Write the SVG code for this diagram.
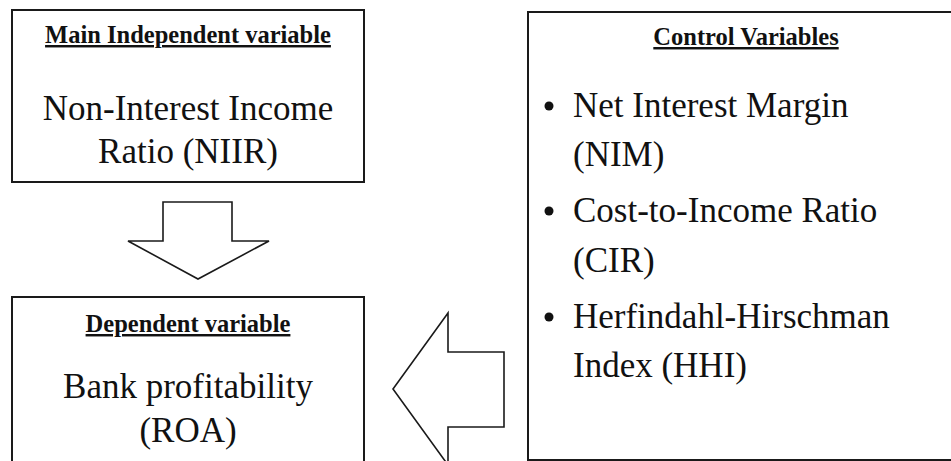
<svg xmlns="http://www.w3.org/2000/svg" width="951" height="461" viewBox="0 0 951 461">
<style>
.box{fill:#fff;stroke:#1a1a1a;stroke-width:2}
.arr{fill:#fff;stroke:#1a1a1a;stroke-width:1.6;stroke-linejoin:miter}
.hdr{font-family:"Liberation Serif","Times New Roman",serif;font-weight:bold;font-size:24.5px;fill:#111;text-anchor:middle;text-decoration:underline}
.big{font-family:"Liberation Serif","Times New Roman",serif;font-size:35px;fill:#111}
.mid{text-anchor:middle}
</style>
<rect width="951" height="461" fill="#fff"/>
<g id="connectors">
<polygon class="arr" points="163,202 232,202 232,241 269,241 198,279 128,241 163,241"/>
<polygon class="arr" points="504,352 504,427 448,427 448,465 393,389 448,313 448,352"/>
</g>
<g id="main-independent">
<rect class="box" x="12" y="10" width="352" height="172"/>
<text class="hdr" x="188" y="43">Main Independent variable</text>
<text class="big mid" x="188" y="120">Non-Interest Income</text>
<text class="big mid" x="188" y="163">Ratio (NIIR)</text>
</g>
<g id="dependent">
<rect class="box" x="12" y="297" width="352" height="180"/>
<text class="hdr" x="188" y="332">Dependent variable</text>
<text class="big mid" x="188" y="398">Bank profitability</text>
<text class="big mid" x="188" y="442">(ROA)</text>
</g>
<g id="control">
<rect class="box" x="528" y="12" width="440" height="448"/>
<text class="hdr" x="746" y="45">Control Variables</text>
<circle cx="549" cy="106" r="4.5" fill="#111"/>
<text class="big" x="573" y="117">Net Interest Margin</text>
<text class="big" x="573" y="166">(NIM)</text>
<circle cx="549" cy="211" r="4.5" fill="#111"/>
<text class="big" x="573" y="222">Cost-to-Income Ratio</text>
<text class="big" x="573" y="272">(CIR)</text>
<circle cx="549" cy="317" r="4.5" fill="#111"/>
<text class="big" x="573" y="328">Herfindahl-Hirschman</text>
<text class="big" x="573" y="377">Index (HHI)</text>
</g>
</svg>
